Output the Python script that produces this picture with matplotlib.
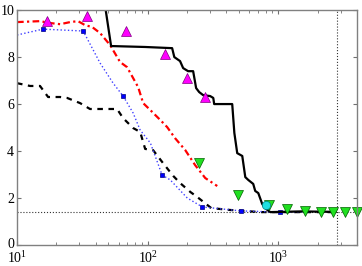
import numpy as np
import matplotlib
matplotlib.use('Agg')
import matplotlib.pyplot as plt
import matplotlib.transforms as mtransforms

plt.rcParams['font.family'] = 'Liberation Serif'
plt.rcParams['mathtext.fontset'] = 'stix'

# black solid curve
solid_x = [46, 52.5, 95.7, 154, 160, 177, 187, 204, 223, 235, 248, 266, 301, 318, 323,
           373, 444, 461, 485, 530, 559, 589, 643, 666, 703, 754, 809, 868, 1500, 2735]
solid_y = [10.6, 8.47, 8.43, 8.38, 8.0, 7.83, 7.53, 7.40, 7.40, 6.68, 6.51, 6.38, 6.34, 6.26, 6.0,
           6.0, 6.0, 4.77, 3.91, 3.79, 2.89, 2.77, 2.60, 2.30, 2.21, 1.74, 1.53, 1.40, 1.43, 1.41]

# red dash-dot curve
red_x = [10, 15, 17.9, 21.4, 25.5, 29.3, 33.2, 37.6, 43.3, 51.6, 61.5, 69.6, 84.6, 92.4,
         105, 125, 141, 162, 194, 231, 276, 341]
red_y = [9.49, 9.53, 9.45, 9.40, 9.49, 9.53, 9.36, 9.28, 9.02, 8.51, 7.79, 7.57, 6.72, 6.04,
         5.74, 5.32, 5.02, 4.55, 4.04, 3.40, 2.85, 2.51]

# blue dotted curve
blue_x = [10, 15.8, 32.1, 43.3, 54.4, 64.9, 77.4, 87.7, 105, 129, 149, 201, 262, 520, 1035, 1760]
blue_y = [8.94, 9.19, 9.11, 7.74, 6.89, 6.34, 5.62, 4.89, 4.34, 2.98, 2.77, 2.0, 1.62, 1.45, 1.40, 1.41]
blue_mx = [15.8, 32.1, 64.9, 129, 262, 520, 1035]
blue_my = [9.19, 9.11, 6.34, 2.98, 1.62, 1.45, 1.40]

# black dashed curve
dash_x = [10, 12.6, 15, 17.3, 21.4, 24.2, 30.4, 36.2, 58.3, 64.9, 77.4, 87.7, 95.7, 110,
          131, 157, 177, 212, 240, 307, 429, 728, 1476, 2735]
dash_y = [6.89, 6.77, 6.77, 6.30, 6.30, 6.26, 6.04, 5.79, 5.79, 5.40, 4.98, 4.81, 4.09, 4.04,
          3.49, 2.94, 2.64, 2.26, 2.04, 1.57, 1.49, 1.40, 1.40, 1.40]

# magenta up triangles
mag_x = [17, 34.3, 68.4, 136, 201, 276]
mag_y = [9.53, 9.74, 9.1, 8.13, 7.1, 6.3]

# green down triangles
grn_x = [248, 494, 851, 1172, 1610, 2135, 2637, 3260, 4030]
grn_y = [3.49, 2.13, 1.70, 1.53, 1.45, 1.42, 1.40, 1.40, 1.40]

# cyan circle
cyan_x = [809]
cyan_y = [1.72]

h_level = 1.41
v_level = 2830

fig = plt.figure(figsize=(3.62, 2.66), dpi=100)
ax = fig.add_axes([0.047, 0.079, 0.939, 0.883])

ax.axhline(h_level, color='#333333', ls=':', lw=0.8)
ax.axvline(v_level, color='#333333', ls=':', lw=0.8)

ax.plot(dash_x, dash_y, 'k--', lw=1.6, dashes=(2.5, 2.5))
ax.plot(blue_x, blue_y, ':', color='#4040ff', lw=1.0)
ax.plot(blue_mx, blue_my, 's', color='blue', ms=3.5, mec='#000080', mew=0.5)
ax.plot(red_x, red_y, '-.', color='red', lw=1.6, dashes=(3, 1.5, 1, 1.5))
ax.plot(solid_x, solid_y, 'k-', lw=1.6)
ax.plot(mag_x, mag_y, '^', color='magenta', ms=7, mec='#800080', mew=0.5)
ax.plot(grn_x, grn_y, 'v', color='#20e020', ms=7, mec='#006000', mew=0.5, clip_on=False)
ax.plot(cyan_x, cyan_y, 'o', color='#20e0e0', ms=6, mec='#008080', mew=0.5)

ax.set_xscale('log')
ax.set_xlim(10, 4000)
ax.set_ylim(0, 10)
ax.set_yticks([0, 2, 4, 6, 8, 10])
ax.set_xticks([10, 100, 1000])
ax.tick_params(which='both', direction='in', top=True, right=True, labelsize=10,
               colors='#707070', labelcolor='black', pad=2)
ax.tick_params(axis='x', which='major', pad=3.5)
ax.tick_params(which='major', length=3)
ax.tick_params(which='minor', length=2)
for s in ax.spines.values():
    s.set_color('#808080')
    s.set_linewidth(1.0)

# nudge the "0" label up a little so it clears the 10^1 label
fig.canvas.draw()
zero_lbl = ax.get_yticklabels()[0]
zero_lbl.set_transform(zero_lbl.get_transform() +
                       mtransforms.ScaledTranslation(0, 2 / 100, fig.dpi_scale_trans))

fig.savefig('out.png', dpi=100)
